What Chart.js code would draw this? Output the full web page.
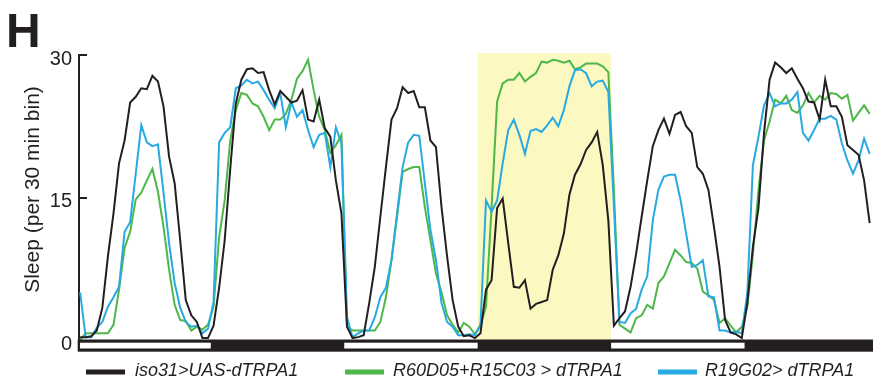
<!DOCTYPE html>
<html>
<head>
<meta charset="utf-8">
<script src="https://cdn.jsdelivr.net/npm/chart.js@4.4.1/dist/chart.umd.min.js"></script>
<style>
  html, body { margin: 0; padding: 0; background: #ffffff; }
  #wrap { width: 873px; height: 385px; position: relative; }
</style>
</head>
<body>
<div id="wrap"><canvas id="c" width="873" height="385"></canvas></div>
<script>
// ---- Data (sleep minutes per 30-min bin) ----
const seriesNames = ['iso31>UAS-dTRPA1', 'R60D05+R15C03 > dTRPA1', 'R19G02> dTRPA1'];
const yTitle = 'Sleep (per 30 min bin)';

const iso31 = [
  0.3, 0.3, 0.4, 1.0, 3.4, 8.8, 13.3, 18.6, 21.0, 25.0,
  25.6, 26.5, 26.4, 27.8, 27.2, 24.6, 19.3, 16.5, 10.5, 4.2,
  2.6, 1.9, 0.2, 0.2, 1.5, 5.5, 10.5, 18.0, 24.9, 27.4,
  28.5, 28.6, 28.1, 28.2, 26.3, 24.8, 26.2, 25.6, 25.0, 25.2,
  26.3, 23.2, 23.0, 25.3, 22.3, 21.4, 16.8, 13.3, 1.4, 0.2,
  0.3, 0.5, 3.9, 7.7, 13.0, 18.2, 23.2, 24.4, 26.6, 26.0,
  26.2, 24.5, 24.5, 21.0, 20.3, 14.0, 8.8, 4.2, 1.4, 0.4,
  0.5, 0.2, 0.7, 5.3, 6.3, 13.9, 14.9, 10.2, 5.6, 5.5,
  6.3, 3.3, 3.8, 4.0, 4.2, 7.4, 8.9, 11.2, 15.3, 17.4,
  18.5, 20.0, 20.8, 21.9, 18.4, 12.6, 1.5, 2.3, 3.0, 5.6,
  9.1, 13.0, 16.8, 20.4, 22.1, 23.3, 21.7, 23.7, 24.0, 22.5,
  21.8, 18.2, 17.5, 15.8, 11.9, 7.7, 2.1, 0.8, 0.6, 0.2,
  3.9, 9.8, 13.9, 21.8, 27.4, 29.2, 28.7, 28.1, 28.6, 27.5,
  26.5, 25.1, 25.0, 23.2, 27.4, 24.6, 24.6, 23.5, 20.5, 20.0,
  19.5, 16.8, 12.3
];

const r60d05 = [
  0.0, 0.7, 0.7, 0.7, 0.7, 0.7, 1.6, 5.3, 9.7, 11.4,
  14.8, 15.5, 16.8, 18.0, 15.6, 11.9, 7.4, 3.7, 2.1, 2.0,
  1.0, 1.4, 1.1, 1.6, 3.5, 10.8, 14.7, 21.0, 24.2, 26.0,
  25.8, 24.9, 24.6, 23.5, 22.1, 23.2, 23.2, 23.8, 25.3, 27.5,
  28.3, 29.5, 26.3, 23.5, 22.1, 19.7, 20.5, 21.6, 1.4, 1.0,
  1.0, 1.0, 1.0, 1.0, 1.9, 4.5, 8.4, 13.0, 17.7, 18.0,
  18.2, 18.2, 14.0, 10.5, 7.0, 5.0, 2.6, 1.6, 0.8, 1.8,
  1.4, 0.6, 1.6, 3.5, 14.0, 25.1, 27.0, 27.4, 27.4, 28.1,
  27.2, 27.7, 28.1, 29.3, 29.2, 29.5, 29.4, 29.2, 29.4, 28.5,
  28.7, 29.1, 29.1, 29.1, 28.8, 28.2, 15.8, 1.6, 1.2, 0.8,
  2.3, 2.6, 3.7, 3.3, 6.0, 6.7, 8.1, 9.5, 8.9, 8.2,
  8.1, 7.5, 5.1, 4.7, 4.2, 1.8, 2.3, 1.5, 0.8, 1.4,
  3.5, 9.0, 15.8, 21.0, 23.0, 25.3, 24.9, 25.7, 24.2, 23.9,
  24.7, 26.0, 25.0, 25.7, 25.3, 26.0, 25.9, 25.4, 25.8, 23.1,
  23.9, 24.7, 23.8
];

const r19g02 = [
  5.0, 0.3, 0.3, 1.3, 1.9, 3.5, 4.5, 5.6, 11.4, 12.4,
  17.5, 22.6, 20.8, 20.4, 20.6, 15.5, 10.2, 6.0, 3.4, 1.9,
  1.4, 1.5, 0.7, 1.2, 4.0, 20.8, 21.8, 22.4, 26.5, 26.8,
  27.4, 27.0, 27.2, 26.3, 25.3, 24.4, 26.0, 22.4, 25.0, 23.5,
  24.2, 22.1, 20.3, 21.6, 21.8, 18.2, 22.4, 20.7, 2.4, 0.3,
  0.7, 1.0, 1.0, 2.4, 4.5, 5.5, 8.4, 13.3, 18.2, 20.8,
  21.6, 21.5, 16.5, 11.6, 8.4, 3.9, 1.9, 1.4, 0.5, 0.5,
  0.6, 0.5, 1.5, 14.7, 13.5, 14.7, 18.6, 22.1, 23.2, 21.6,
  19.6, 22.0, 22.2, 21.9, 22.6, 23.4, 22.5, 24.2, 26.7, 28.4,
  28.5, 28.1, 26.7, 27.2, 27.3, 26.1, 14.0, 1.9, 1.8, 2.8,
  3.3, 5.3, 6.7, 12.6, 15.8, 17.2, 17.4, 17.4, 14.7, 11.2,
  7.7, 7.9, 8.4, 4.6, 4.5, 1.0, 1.0, 0.8, 0.9, 0.7,
  5.0, 18.4, 21.4, 24.7, 26.0, 24.6, 24.9, 24.9, 25.3, 26.1,
  21.8, 21.0, 22.1, 23.3, 23.3, 23.6, 23.2, 20.7, 18.9, 17.5,
  18.9, 21.2, 19.6
];

// 30-min bin index of each value (categories along the time axis)
const bins = iso31.map((_, i) => i);

// Light phases (white boxes) and the warm dTRPA1-activation phase (yellow), in bin units
const lightPhases = [[-0.5, 23.5], [47.5, 71.5], [95.5, 119.5]];
const heatPhase = [71.5, 95.5];

const yTicks = [0, 15, 30];

// ---- Styles ----
const INK = '#231f20';
const GREEN = '#4db848';
const BLUE = '#27aae1';
const YELLOW = '#fbf8c1';
const FONT = '"Liberation Sans", Arial, Helvetica, sans-serif';

const toXY = arr => arr.map((v, i) => ({x: bins[i], y: v}));

const deco = {
  id: 'deco',
  beforeDatasetsDraw(chart) {
    const {ctx, scales: {x, y}} = chart;
    ctx.save();
    const x1 = x.getPixelForValue(heatPhase[0]);
    const x2 = x.getPixelForValue(heatPhase[1]);
    const yt = y.getPixelForValue(30.2);
    const yb = y.getPixelForValue(0);
    ctx.fillStyle = YELLOW;
    ctx.fillRect(x1, yt, x2 - x1, yb - yt);
    ctx.restore();
  },
  afterDatasetsDraw(chart) {
    const {ctx, scales: {x, y}, chartArea} = chart;
    ctx.save();
    // light/dark bar
    const top = y.getPixelForValue(0) - 0.5;
    const h = 12.2;
    const left = chartArea.left - 1.3;
    ctx.fillStyle = INK;
    ctx.fillRect(left, top, chart.width - left, h);
    ctx.fillStyle = '#ffffff';
    lightPhases.forEach(([a, b]) => {
      const xa = Math.max(x.getPixelForValue(a), left + 2.3);
      const xb = x.getPixelForValue(b);
      ctx.fillRect(xa, top + 3.2, xb - xa, h - 6.4);
    });
    // inward tick marks
    ctx.strokeStyle = INK;
    ctx.lineWidth = 2;
    [15, 30].forEach(v => {
      const py = Math.round(y.getPixelForValue(v));
      ctx.beginPath();
      ctx.moveTo(chartArea.left - 1, py);
      ctx.lineTo(chartArea.left + 8, py);
      ctx.stroke();
    });
    ctx.restore();
  },
  afterDraw(chart) {
    const {ctx, scales: {y}} = chart;
    ctx.save();
    // panel letter
    ctx.fillStyle = INK;
    ctx.font = 'bold 48px ' + FONT;
    ctx.textBaseline = 'alphabetic';
    ctx.textAlign = 'left';
    ctx.fillText('H', 6, 47);
    // y-axis title
    ctx.save();
    ctx.translate(33, (y.top + y.bottom) / 2 - 8);
    ctx.rotate(-Math.PI / 2);
    ctx.font = '21px ' + FONT;
    ctx.textAlign = 'center';
    ctx.textBaseline = 'middle';
    ctx.fillText(yTitle, 0, 0);
    ctx.restore();
    // legend
    const items = [
      {x: 86, tx: 135, color: INK, text: seriesNames[0]},
      {x: 345, tx: 393, color: GREEN, text: seriesNames[1]},
      {x: 658, tx: 705, color: BLUE, text: seriesNames[2]}
    ];
    ctx.font = 'italic 18px ' + FONT;
    ctx.textBaseline = 'middle';
    ctx.textAlign = 'left';
    items.forEach(it => {
      ctx.strokeStyle = it.color;
      ctx.lineWidth = 5;
      ctx.lineCap = 'butt';
      ctx.beginPath();
      ctx.moveTo(it.x, 372);
      ctx.lineTo(it.x + 39, 372);
      ctx.stroke();
      ctx.fillStyle = INK;
      ctx.fillText(it.text, it.tx, 370.5);
    });
    ctx.restore();
  }
};

Chart.defaults.font.family = FONT;
Chart.defaults.color = INK;

new Chart(document.getElementById('c'), {
  type: 'line',
  data: {
    datasets: [
      {label: seriesNames[1], data: toXY(r60d05), borderColor: GREEN, borderWidth: 2, pointRadius: 0, tension: 0, fill: false, order: 3},
      {label: seriesNames[2], data: toXY(r19g02), borderColor: BLUE, borderWidth: 2, pointRadius: 0, tension: 0, fill: false, order: 2},
      {label: seriesNames[0], data: toXY(iso31), borderColor: INK, borderWidth: 2, pointRadius: 0, tension: 0, fill: false, order: 1}
    ]
  },
  options: {
    responsive: false,
    animation: false,
    devicePixelRatio: 1,
    layout: {padding: {top: 55, right: 0, bottom: 45, left: 0}},
    plugins: {legend: {display: false}, tooltip: {enabled: false}, title: {display: false}},
    scales: {
      x: {type: 'linear', min: -0.2, max: 142.6, display: false},
      y: {
        min: 0, max: 30,
        afterFit(s) { s.width = 79; },
        afterBuildTicks(s) { s.ticks = yTicks.map(v => ({value: v})); },
        ticks: {font: {size: 20}, color: INK, padding: 7, labelOffset: 4},
        grid: {display: false, drawTicks: false},
        border: {display: true, color: INK, width: 2},
        title: {display: false}
      }
    }
  },
  plugins: [deco]
});
</script>
</body>
</html>
